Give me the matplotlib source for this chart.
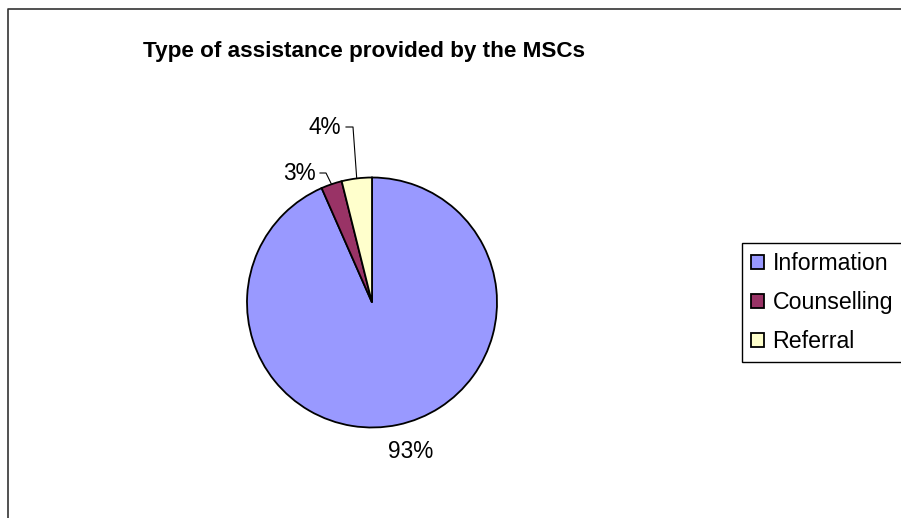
import matplotlib
matplotlib.use('Agg')
import matplotlib.pyplot as plt
import numpy as np
from matplotlib.lines import Line2D

plt.rcParams['font.family'] = ['Liberation Sans', 'DejaVu Sans']

# data (share of cases, %)
categories = ['Information', 'Counselling', 'Referral']
shares = [93.4, 2.7, 3.9]
colors = ['#9999FF', '#993366', '#FFFFCC']
title = 'Type of assistance provided by the MSCs'

# label placement (axes data units, pie radius = 1)
label_xy = [(0.312, -1.196), (-0.584, 1.036), (-0.376, 1.404)]
elbow_x = [None, -0.368, -0.152]
end_x = [None, -0.416, -0.208]

W, H = 901, 518
fig = plt.figure(figsize=(W / 100, H / 100), dpi=100)

# chart area frame (left and top edges visible)
fig.add_artist(Line2D([8 / W, 8 / W, 1.0], [0.0, 1 - 9 / H, 1 - 9 / H],
                      transform=fig.transFigure, color='#333333', lw=1.2))

cx, cy, r = 372, 302.5, 125
ax = fig.add_axes([(cx - r) / W, (H - cy - r) / H, 2 * r / W, 2 * r / H])
wedges, _ = ax.pie(shares, colors=colors, startangle=90, counterclock=False,
                   radius=1, wedgeprops=dict(edgecolor='black', linewidth=1.3))
ax.set_xlim(-1, 1)
ax.set_ylim(-1, 1)
ax.axis('off')

total = float(sum(shares))
start = 0.0
for i, v in enumerate(shares):
    mid = (start + v / 2) / total * 2 * np.pi
    start += v
    px, py = np.sin(mid), np.cos(mid)
    lx, ly = label_xy[i]
    ax.text(lx, ly, '{0:.0f}%'.format(v), ha='center', va='center',
            fontsize=16.3, clip_on=False)
    if elbow_x[i] is not None:
        ax.plot([px, elbow_x[i], end_x[i]], [py, ly, ly], color='black',
                lw=0.8, clip_on=False)

fig.text(364 / W, 1 - 51 / H, title, ha='center', va='center',
         fontsize=16.2, fontweight='bold')

leg = ax.legend(wedges, categories, loc='upper left',
                bbox_to_anchor=(742 / W, 1 - 243 / H),
                bbox_transform=fig.transFigure, borderaxespad=0,
                fontsize=16.7, frameon=True, fancybox=False, framealpha=1,
                handlelength=0.56, handleheight=0.56, handletextpad=0.35,
                labelspacing=0.68, borderpad=0.4)
leg.get_frame().set_edgecolor('black')
leg.get_frame().set_linewidth(1.0)

fig.savefig('out.png', dpi=100)
